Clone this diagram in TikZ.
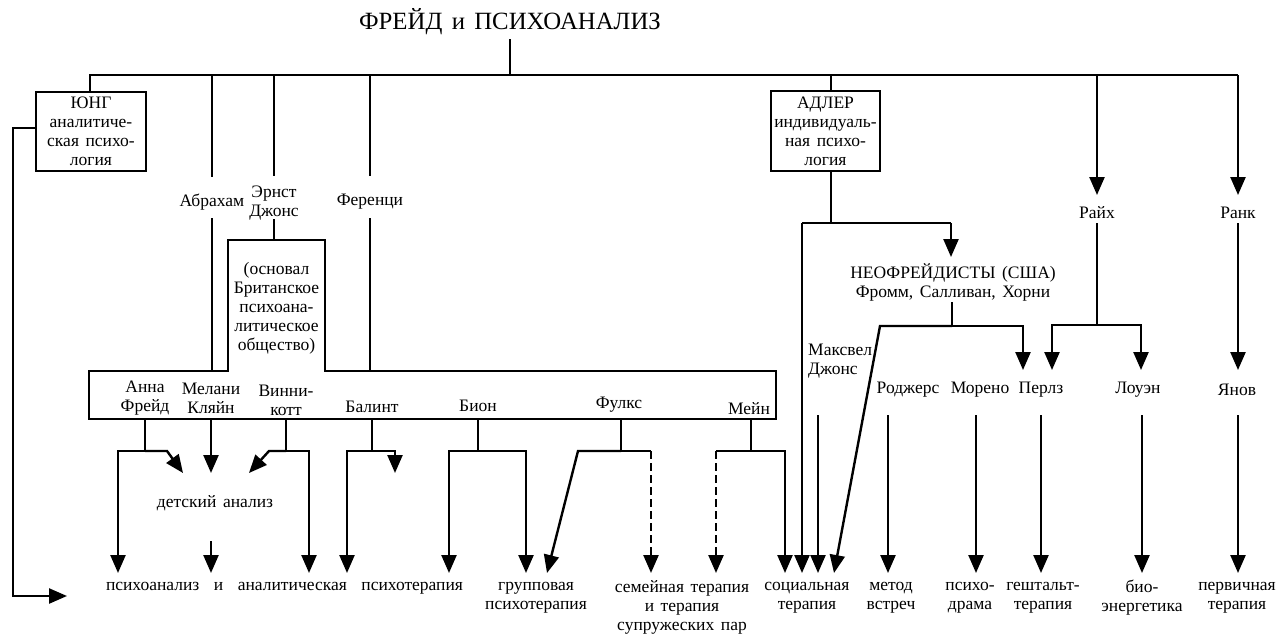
\documentclass[tikz,border=0pt]{standalone}
\usepackage{fontspec}
\setmainfont{Liberation Serif}[WordSpace=1.5]
\usetikzlibrary{arrows.meta}
\begin{document}
\begin{tikzpicture}[x=1pt,y=-1pt,
  txt/.style={font=\fontsize{17.5}{19}\selectfont, align=center, inner sep=0pt},
  ttl/.style={font=\fontsize{24.8}{28}\selectfont, inner sep=0pt},
  ln/.style={line width=2.4pt},
  arr/.style={line width=2.4pt, -{Triangle[length=18pt,width=15pt]}},
  dsh/.style={arr, dash pattern=on 8pt off 4pt},
  boxed/.style={txt, draw, line width=2.4pt}]
\useasboundingbox (0,0) rectangle (1278,635);

% title and top bar
\node[ttl] (title) at (510,22) {ФРЕЙД и ПСИХОАНАЛИЗ};
\coordinate (tb) at (510,75);
\draw[ln] (510,39) -- (tb);
\draw[ln] (90,92) -- (90,75) -- (1238,75);

% Jung
\node[boxed, minimum width=110pt, minimum height=79pt] (jung) at (91,131.5)
  {ЮНГ\\аналитиче-\\ская психо-\\логия};
\coordinate (jungend) at (67,596);
\draw[arr] (jung.west |- 0,128) -- (13,128) -- (13,596) -- (jungend);

% Adler
\node[boxed, minimum width=109pt, minimum height=80pt] (adler) at (825.5,131)
  {АДЛЕР\\индивидуаль-\\ная психо-\\логия};
\draw[ln] (831,75) -- (adler.north -| 831,0);

% Abraham, Jones, Ferenczi
\node[txt] (abr) at (212,202) {Абрахам};
\node[txt] (jones) at (274,203) {Эрнст\\Джонс};
\node[txt] (fer) at (370,202) {Ференци};
\draw[ln] (212,75) -- (212,177);
\draw[ln] (212,218) -- (212,371);
\draw[ln] (274,75) -- (274,176);
\draw[ln] (274,219) -- (274,240);
\draw[ln] (370,75) -- (370,176);
\draw[ln] (370,218) -- (370,371);

% British society outline
\draw[ln] (89,371) -- (228,371) -- (228,240) -- (325,240) -- (325,371)
  -- (776,371) -- (776,419) -- (89,419) -- cycle;
\node[txt] (bs) at (276.5,308) {(основал\\Британское\\психоана-\\литическое\\общество)};

% names in the box
\node[txt] (anna) at (145,398) {Анна\\Фрейд};
\node[txt] (mel) at (211,398) {Мелани\\Кляйн};
\node[txt] (win) at (286,400) {Винни-\\котт};
\node[txt] (bal) at (372,407) {Балинт};
\node[txt] (bion) at (478,406) {Бион};
\node[txt] (fulks) at (619,405) {Фулкс};
\node[txt] (mein) at (749,409) {Мейн};

% child analysis
\node[txt] (det) at (215,503) {детский анализ};

% bottom row
\node[txt] (psy) at (284.5,588) {\makebox[357pt][s]{психоанализ и аналитическая психотерапия}};
\node[txt] (grp) at (536,597.5) {групповая\\психотерапия};
\node[txt] (fam) at (682,607) {семейная терапия\\и терапия\\супружеских пар};
\node[txt] (soc) at (807,597.5) {социальная\\терапия};
\node[txt] (met) at (891,597.5) {метод\\встреч};
\node[txt] (dra) at (970,597.5) {психо-\\драма};
\node[txt] (ges) at (1043,597.5) {гештальт-\\терапия};
\node[txt] (bio) at (1142,597.5) {био-\\энергетика};
\node[txt] (perv) at (1237,597.5) {первичная\\терапия};

% Anna Freud
\draw[ln] (145,419) -- (145,451);
\draw[arr] (145,451) -- (167,451) -- (183,473);
\draw[arr] (145,451) -- (118,451) -- (118,573);
% Melanie Klein
\draw[arr] (211,419) -- (211,473);
% Winnicott
\draw[ln] (286,419) -- (286,451);
\draw[arr] (286,451) -- (269,451) -- (249,473);
\draw[arr] (286,451) -- (309,451) -- (309,573);
% child analysis arrow
\draw[arr] (211,541) -- (211,573);
% Balint
\draw[ln] (372,419) -- (372,451);
\draw[arr] (372,451) -- (395,451) -- (395,473);
\draw[arr] (372,451) -- (347,451) -- (347,573);
% Bion
\draw[ln] (478,419) -- (478,451);
\draw[arr] (478,451) -- (449,451) -- (449,573);
\draw[arr] (478,451) -- (526,451) -- (526,573);
% Fulks
\draw[ln] (621,419) -- (621,451);
\draw[arr] (621,451) -- (578,451) -- (547,573);
\draw[ln] (621,451) -- (651,451);
\draw[dsh] (651,451) -- (651,573);
% Mein
\draw[ln] (751,419) -- (751,451);
\draw[ln] (751,451) -- (716,451);
\draw[dsh] (716,451) -- (716,573);
\draw[arr] (751,451) -- (785,451) -- (785,573);

% Adler branches
\draw[ln] (adler.south -| 831,0) -- (831,223);
\draw[ln] (802,223) -- (951,223);
\draw[arr] (951,223) -- (951,257);
\draw[arr] (802,223) -- (802,573);

% Neo-Freudians
\node[txt] (neo) at (953,282) {НЕОФРЕЙДИСТЫ (США)\\Фромм, Салливан, Хорни};
\draw[ln] (952,302) -- (952,326);
\draw[arr] (952,326) -- (1023,326) -- (1023,370);
\draw[arr] (952,326) -- (880,326) -- (834,573);

% Maxwell Jones
\node[txt, align=left, anchor=west] (max) at (808,361) {Максвел\\Джонс};
\draw[arr] (818,415) -- (818,573);

% Reich, Rank
\node[txt] (rei) at (1097,213) {Райх};
\node[txt] (rank) at (1238,213) {Ранк};
\draw[arr] (1097,75) -- (1097,195);
\draw[arr] (1238,75) -- (1238,195);
\draw[ln] (1097,223) -- (1097,325);
\draw[arr] (1097,325) -- (1052,325) -- (1052,370);
\draw[arr] (1097,325) -- (1141,325) -- (1141,370);
\draw[arr] (1238,223) -- (1238,370);

% row of therapists
\node[txt] (rog) at (908,390) {Роджерс};
\node[txt] (mor) at (980,390) {Морено};
\node[txt] (per) at (1041,390) {Перлз};
\node[txt] (low) at (1138,390) {Лоуэн};
\node[txt] (yan) at (1237,390) {Янов};
\draw[arr] (888,415) -- (888,573);
\draw[arr] (976,415) -- (976,573);
\draw[arr] (1041,415) -- (1041,573);
\draw[arr] (1142,415) -- (1142,573);
\draw[arr] (1238,415) -- (1238,573);
\end{tikzpicture}
\end{document}
